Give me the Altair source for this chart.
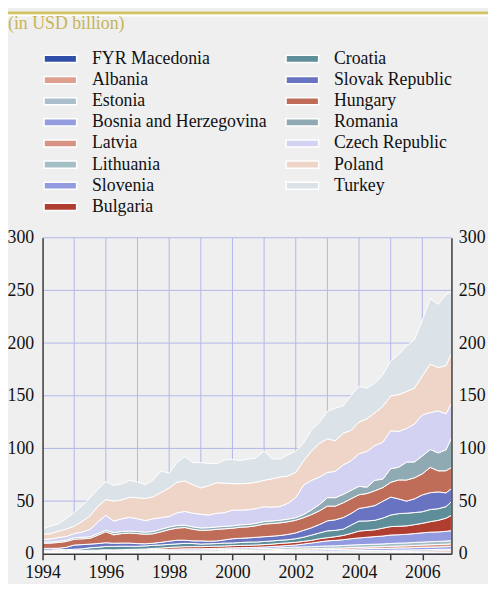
import altair as alt
import pandas as pd

# Quarterly observations, 1994 Q1 .. 2006 Q4 (last point = Dec 2006)
quarters = [1994.0, 1994.25, 1994.5, 1994.75, 1995.0, 1995.25, 1995.5, 1995.75,
            1996.0, 1996.25, 1996.5, 1996.75, 1997.0, 1997.25, 1997.5, 1997.75,
            1998.0, 1998.25, 1998.5, 1998.75, 1999.0, 1999.25, 1999.5, 1999.75,
            2000.0, 2000.25, 2000.5, 2000.75, 2001.0, 2001.25, 2001.5, 2001.75,
            2002.0, 2002.25, 2002.5, 2002.75, 2003.0, 2003.25, 2003.5, 2003.75,
            2004.0, 2004.25, 2004.5, 2004.75, 2005.0, 2005.25, 2005.5, 2005.75,
            2006.0, 2006.25, 2006.5, 2006.75, 2006.92]

countries = ["FYR Macedonia", "Albania", "Estonia", "Bosnia and Herzegovina", "Latvia",
             "Lithuania", "Slovenia", "Bulgaria", "Croatia", "Slovak Republic", "Hungary",
             "Romania", "Czech Republic", "Poland", "Turkey"]

macedonia = [0.15, 0.15, 0.2, 0.2, 0.25, 0.25, 0.25, 0.25, 0.25, 0.25, 0.25, 0.25, 0.25, 0.25, 0.25, 0.25,
             0.3, 0.3, 0.3, 0.3, 0.3, 0.35, 0.4, 0.4, 0.45, 0.45, 0.45, 0.45, 0.5, 0.6, 0.7,
             0.75, 0.75, 0.75, 0.75, 0.75, 0.75, 0.8, 0.8, 0.85, 0.9, 0.9, 0.9, 0.9,
             1.0, 1.1, 1.1, 1.2, 1.2, 1.3, 1.4, 1.4, 1.5]
albania = [0.2, 0.2, 0.2, 0.2, 0.25, 0.25, 0.25, 0.25, 0.3, 0.3, 0.3, 0.3, 0.3, 0.3, 0.3, 0.3,
           0.3, 0.3, 0.35, 0.35, 0.35, 0.4, 0.4, 0.45, 0.5, 0.5, 0.5, 0.55, 0.6, 0.6, 0.65, 0.7,
           0.7, 0.75, 0.75, 0.8, 0.8, 0.85, 0.9, 0.9, 0.95, 1.0, 1.0, 1.0, 1.1, 1.1, 1.2, 1.2,
           1.3, 1.3, 1.4, 1.4, 1.5]
estonia = [0.4, 0.4, 0.45, 0.45, 0.5, 0.5, 0.55, 0.55, 0.6, 0.6, 0.6, 0.65, 0.7, 0.7, 0.75, 0.75,
           0.75, 0.8, 0.8, 0.8, 0.8, 0.8, 0.8, 0.85, 0.9, 0.9, 0.9, 0.9, 0.9, 0.9, 0.9, 0.95,
           1.0, 1.0, 1.0, 1.05, 1.1, 1.1, 1.1, 1.15, 1.2, 1.2, 1.2, 1.25, 1.3, 1.3, 1.3, 1.35,
           1.4, 1.4, 1.45, 1.5, 1.5]
bosnia = [0, 0, 0, 0, 0, 0, 0, 0, 0, 0, 0, 0, 0, 0, 0, 0.05,
          0.1, 0.1, 0.15, 0.2, 0.2, 0.25, 0.3, 0.35, 0.4, 0.45, 0.45, 0.5, 0.6, 0.7, 0.8, 0.9,
          1.0, 1.0, 1.1, 1.2, 1.3, 1.3, 1.4, 1.5, 1.6, 1.7, 1.8, 1.8, 1.9, 2.0, 2.0, 2.1,
          2.2, 2.3, 2.3, 2.4, 2.5]
latvia = [0.4, 0.45, 0.5, 0.5, 0.5, 0.5, 0.5, 0.55, 0.6, 0.6, 0.65, 0.7, 0.7, 0.7, 0.75, 0.75,
          0.8, 0.8, 0.8, 0.8, 0.8, 0.85, 0.85, 0.9, 0.9, 0.9, 0.95, 0.95, 1.0, 1.0, 1.0, 1.05,
          1.1, 1.1, 1.15, 1.2, 1.3, 1.3, 1.4, 1.5, 1.6, 1.6, 1.7, 1.8, 1.9, 1.9, 2.0, 2.1,
          2.2, 2.3, 2.3, 2.4, 2.5]
lithuania = [0.4, 0.45, 0.5, 0.5, 0.6, 0.6, 0.65, 0.7, 0.75, 0.75, 0.8, 0.85, 0.9, 0.95, 1.0, 1.0,
             1.1, 1.1, 1.2, 1.2, 1.2, 1.2, 1.25, 1.25, 1.3, 1.3, 1.35, 1.4, 1.4, 1.5, 1.6, 1.7,
             1.8, 1.9, 2.0, 2.1, 2.2, 2.2, 2.3, 2.4, 2.4, 2.5, 2.5, 2.6, 2.6, 2.7, 2.7, 2.8,
             2.8, 2.9, 2.9, 3.0, 3.0]
slovenia = [0.5, 0.5, 0.5, 0.5, 0.5, 0.5, 0.5, 0.5, 0.7, 0.7, 0.8, 0.8, 0.9, 0.9, 1.0, 1.0,
            1.0, 1.1, 1.1, 1.1, 1.1, 1.1, 1.2, 1.2, 1.2, 1.3, 1.3, 1.4, 1.5, 1.6, 1.7, 1.8,
            2.0, 2.8, 3.5, 4.2, 4.8, 5.2, 5.5, 6.0, 6.4, 6.8, 7.2, 7.5, 8.0, 8.0, 8.2, 8.4,
            8.8, 9.0, 9.0, 9.2, 9.5]
bulgaria = [0.7, 0.7, 0.7, 0.6, 0.7, 0.7, 0.7, 0.7, 0.6, 0.5, 0.5, 0.6, 0.6, 0.7, 1.0, 1.3,
            1.6, 1.9, 2.0, 2.0, 2.0, 2.0, 2.0, 2.0, 2.1, 2.2, 2.2, 2.2, 2.2, 2.3, 2.5, 2.5,
            2.5, 2.5, 2.5, 3.0, 3.0, 3.5, 4.0, 5.0, 6.5, 6.5, 6.5, 7.5, 8.0, 8.0, 8.0, 8.5,
            9.0, 10.0, 11.0, 12.5, 14.5]
croatia = [0.8, 0.8, 0.9, 1.0, 1.0, 1.4, 2.3, 2.7, 3.2, 3.3, 3.3, 3.0, 2.8, 3.0, 3.0, 3.0,
           3.0, 3.0, 3.2, 3.0, 2.5, 2.5, 2.5, 2.8, 2.5, 2.7, 3.0, 2.8, 3.0, 3.0, 3.0, 3.0,
           3.5, 4.0, 5.0, 5.5, 6.5, 6.0, 6.0, 8.0, 9.5, 9.0, 9.0, 9.5, 11.0, 12.0, 12.0, 11.5,
           11.0, 11.5, 11.0, 11.0, 13.0]
slovak = [1.5, 1.5, 1.3, 2.2, 4.0, 4.0, 3.5, 3.5, 3.5, 3.0, 3.0, 3.0, 2.5, 2.0, 2.0, 2.5,
          3.0, 3.5, 3.0, 2.5, 3.0, 2.5, 2.5, 3.0, 4.0, 4.0, 4.0, 4.5, 4.5, 4.5, 4.5, 5.0,
          5.5, 6.5, 7.0, 8.0, 9.5, 10.0, 11.0, 11.0, 12.0, 13.0, 14.0, 16.0, 17.0, 14.0, 11.5, 13.0,
          16.0, 16.0, 16.0, 13.0, 12.5]
hungary = [5, 5, 5.5, 5.5, 5.5, 5.5, 5.5, 8, 10.5, 8, 9, 9.5, 9.5, 9, 9, 10,
           11, 11.5, 12, 11, 10, 10.5, 11, 10.5, 10, 10.5, 10.5, 11, 12, 12, 12, 12,
           12, 12, 12.5, 13, 14, 13, 14, 14, 13, 13, 14, 13, 14, 18, 20, 20,
           20, 24, 20, 21, 20]
romania = [1, 1, 1.2, 1.3, 1.4, 1.5, 1.5, 1.5, 1.5, 2, 2, 2, 2, 2, 2.2, 2.5,
           2.5, 2.5, 2.3, 2.3, 2.3, 2.3, 2.3, 2.3, 2.3, 2.3, 2.3, 2.3, 2.5, 2.5, 2.5, 2.5,
           2.5, 3, 4.5, 6, 8, 8, 8, 8, 8, 6, 10, 8, 13, 12, 17, 15,
           17, 17, 17, 20, 28]
czech = [2.5, 3, 3.5, 3.5, 4, 5, 7, 11, 14, 11, 12, 13, 12, 11, 12, 11,
         10, 12, 13, 13, 13, 12, 13, 13, 15, 14, 14, 14, 14, 13, 13, 15,
         19, 28, 28, 26, 24, 25, 28, 28, 31, 34, 33, 35, 36, 34, 32, 36,
         39, 35, 40, 34, 33]
poland = [5, 5, 6, 7, 7, 10, 13, 15, 15, 19, 18, 19, 20, 21, 21, 24,
          27, 29, 29, 27, 25, 28, 29, 28, 25, 25, 25, 25, 25, 27, 28, 26,
          24, 23, 28, 32, 32, 29, 30, 29, 30, 31, 31, 34, 33, 35, 35, 34,
          37, 46, 41, 46, 47]
turkey = [5, 7, 7, 10, 13, 15, 17, 16, 17, 15, 15, 16, 15, 13, 16, 20,
          14, 19, 23, 21, 24, 21, 18, 22, 23, 22, 23, 23, 28, 19, 17, 20,
          20, 17, 20, 20, 26, 31, 26, 33, 34, 29, 28, 30, 33, 38, 43, 46,
          53, 62, 60, 67, 59]

series = [macedonia, albania, estonia, bosnia, latvia, lithuania, slovenia, bulgaria,
          croatia, slovak, hungary, romania, czech, poland, turkey]

colors = ["#2f4ea8", "#dda08f", "#aabfcb", "#959de0", "#d69282", "#a4bec6", "#939be0",
          "#b03e30", "#5f8e9b", "#6873c1", "#bf6d58", "#8faab3", "#d4d2f2", "#efd4c8",
          "#dbe2e8"]

rows = []
for rank, (name, vals) in enumerate(zip(countries, series)):
    for t, v in zip(quarters, vals):
        rows.append({"country": name, "t": t, "value": v, "rank": rank})
df = pd.DataFrame(rows)

years = list(range(1994, 2007))
grid_years = pd.DataFrame({"year": years[1:]})
y_ticks = [0, 50, 100, 150, 200, 250, 300]
grid_levels = pd.DataFrame({"level": y_ticks[1:]})

W, H = 414, 320
PL, PT, PR = 35, 229, 37
PB = 576 - PT - H

FONT = "'Liberation Serif', 'Times New Roman', Times, serif"
AX = "#3a3a3a"
GRID = "#b3b6ea"

xscale = alt.Scale(domain=[1994, 2006.92], nice=False, zero=False)
yscale = alt.Scale(domain=[0, 300], nice=False)

x_axis = alt.Axis(values=years, grid=False, zindex=2,
                  labelExpr="datum.value % 2 == 0 ? format(datum.value, 'd') : ''",
                  labelFlush=False, labelOverlap=False, labelFont=FONT, labelFontSize=18,
                  labelColor="#111111", labelPadding=4, tickSize=6, tickWidth=1.5,
                  tickColor=AX, domainColor=AX, domainWidth=1.5)

grid_v = alt.Chart(grid_years).mark_rule(color=GRID, strokeWidth=1).encode(
    x=alt.X("year:Q", scale=xscale, title=None, axis=x_axis))
grid_h = alt.Chart(grid_levels).mark_rule(color=GRID, strokeWidth=1).encode(
    y=alt.Y("level:Q", scale=yscale, axis=None))

area = alt.Chart(df).mark_area(stroke="white", strokeWidth=1, opacity=1, interpolate="linear").encode(
    x=alt.X("t:Q", scale=xscale, title=None, axis=x_axis),
    y=alt.Y("value:Q", stack="zero", scale=yscale, title=None,
            axis=alt.Axis(orient="left", values=y_ticks, grid=False, zindex=2, ticks=False,
                          labelPadding=9, labelFont=FONT, labelFontSize=18, labelColor="#111111",
                          domainColor=AX, domainWidth=1.5)),
    color=alt.Color("country:N",
                    scale=alt.Scale(domain=countries, range=colors),
                    legend=alt.Legend(title=None, orient="none", legendX=9, legendY=-190,
                                      direction="vertical", columns=2, columnPadding=16,
                                      rowPadding=3.4, padding=0,
                                      symbolType="M-3,-0.66H3V0.66H-3Z", symbolSize=121,
                                      symbolStrokeColor="white", symbolStrokeWidth=1.5,
                                      symbolOpacity=1, labelFont=FONT, labelFontSize=18,
                                      labelColor="#111111", labelOffset=23, labelLimit=400)),
    order=alt.Order("rank:Q", sort="ascending"),
)

right_axis = alt.Chart(pd.DataFrame({"v": [0, 300]})).mark_point(opacity=0).encode(
    y=alt.Y("v:Q", scale=yscale, title=None,
            axis=alt.Axis(orient="right", values=y_ticks, grid=False, zindex=2, ticks=False,
                          labelPadding=7, labelFont=FONT, labelFontSize=18, labelColor="#111111",
                          domainColor=AX, domainWidth=1.5)))

one = pd.DataFrame({"a": [0]})
top_bar = alt.Chart(one).mark_rule(color="#d3c364", strokeWidth=3).encode(
    x=alt.value(-PL), x2=alt.value(W + PR), y=alt.value(-PT + 1.5))
top_line = alt.Chart(one).mark_rule(color="#ffffff", strokeWidth=2).encode(
    x=alt.value(-PL), x2=alt.value(W + PR), y=alt.value(-PT + 4))
title = alt.Chart(one).mark_text(text="(in USD billion)", align="left", baseline="alphabetic",
                                 font=FONT, fontSize=18, color="#c6b458").encode(
    x=alt.value(-PL), y=alt.value(18 - PT))

chart = alt.layer(grid_v, grid_h, area, right_axis, top_bar, top_line, title).resolve_axis(
    y="independent"
).properties(
    width=W, height=H,
    padding={"left": PL, "top": PT, "right": PR, "bottom": PB},
    autosize=alt.AutoSizeParams(type="none"),
).configure(background="#efefef").configure_view(strokeOpacity=0)

chart.save("out.html", embed_options={"renderer": "svg", "actions": False})
